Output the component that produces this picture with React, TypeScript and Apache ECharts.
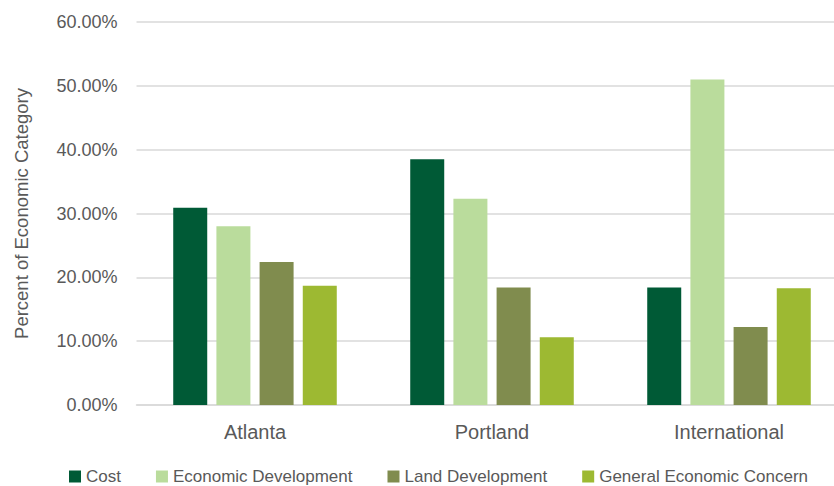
import React, { useEffect, useRef } from "react";
import * as echarts from "echarts";

const categories = ["Atlanta", "Portland", "International"];
const seriesNames = ["Cost", "Economic Development", "Land Development", "General Economic Concern"];
const costValues = [30.9, 38.5, 18.4];
const economicDevValues = [28.0, 32.3, 51.0];
const landDevValues = [22.4, 18.4, 12.2];
const generalValues = [18.7, 10.6, 18.3];
const colors = ["#005A36", "#BADC9C", "#808C4E", "#9DB932"];

const FONT = "Liberation Sans, Arial, sans-serif";

export default function App() {
  const ref = useRef<HTMLDivElement>(null);
  useEffect(() => {
    document.body.style.margin = "0";
    const chart = echarts.init(ref.current!, null, { renderer: "svg" });
    const data = [costValues, economicDevValues, landDevValues, generalValues];
    chart.setOption({
      animation: false,
      textStyle: { fontFamily: FONT },
      grid: { left: 136.5, top: 22, width: 711, height: 383, containLabel: false },
      legend: {
        data: seriesNames,
        left: 69,
        top: 468,
        padding: 0,
        itemWidth: 12,
        itemHeight: 12,
        itemGap: 35,
        icon: "rect",
        textStyle: { color: "#595959", fontSize: 17, fontFamily: FONT },
      },
      xAxis: {
        type: "category",
        data: categories,
        axisLine: { lineStyle: { color: "#D9D9D9", width: 1.5 } },
        axisTick: { show: false },
        axisLabel: { color: "#595959", fontSize: 20, margin: 17, fontFamily: FONT },
      },
      yAxis: {
        type: "value",
        min: 0,
        max: 60,
        interval: 10,
        name: "Percent of Economic Category",
        nameLocation: "middle",
        nameGap: 106,
        nameTextStyle: { color: "#595959", fontSize: 18.5, fontFamily: FONT },
        axisLabel: {
          color: "#595959",
          fontSize: 18,
          margin: 19,
          fontFamily: FONT,
          formatter: (v: number) => v.toFixed(2) + "%",
        },
        splitLine: { lineStyle: { color: "#D9D9D9", width: 1.5 } },
        axisLine: { show: false },
        axisTick: { show: false },
      },
      series: seriesNames.map((name, i) => ({
        name,
        type: "bar",
        data: data[i],
        barWidth: 34,
        barGap: "27%",
        itemStyle: { color: colors[i] },
      })),
    });
    return () => chart.dispose();
  }, []);
  return (
    <div style={{ width: 834, height: 486, overflow: "hidden", position: "relative" }}>
      <div ref={ref} style={{ width: 860, height: 486 }} />
    </div>
  );
}
